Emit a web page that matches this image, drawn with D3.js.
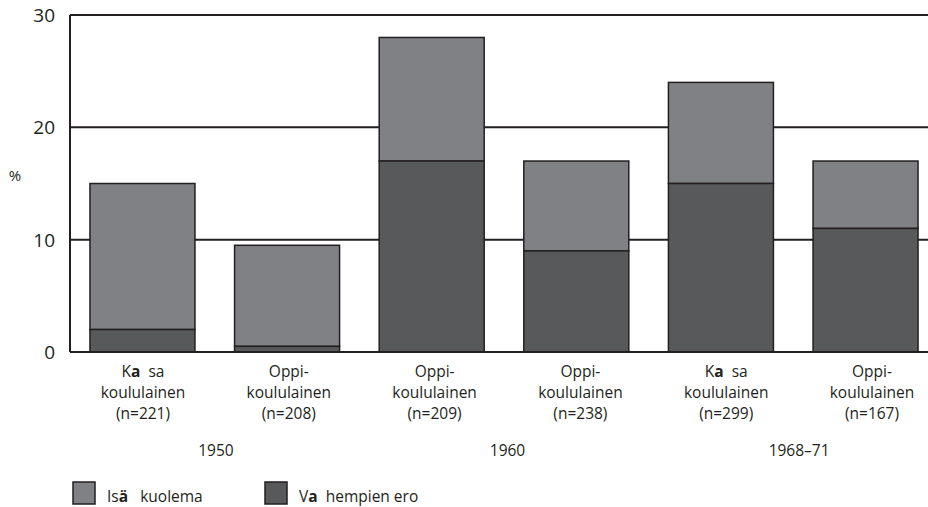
<!DOCTYPE html>
<html>
<head>
<meta charset="utf-8">
<script src="https://cdn.jsdelivr.net/npm/d3@7"></script>
<style>
  body { margin: 0; background: #fff; }
  text { font-family: "Open Sans", "Noto Sans", sans-serif; fill: #231f20; }
</style>
</head>
<body>
<div id="chart"></div>
<script>
// data
var groups = ["g1", "g2", "g3", "g4", "g5", "g6"];
var labelTop = [["K", "a", "  sa"], ["Oppi-"], ["Oppi-"], ["Oppi-"], ["K", "a", "  sa"], ["Oppi-"]];
var labelMid = ["koululainen", "koululainen", "koululainen", "koululainen", "koululainen", "koululainen"];
var labelN = ["(n=221)", "(n=208)", "(n=209)", "(n=238)", "(n=299)", "(n=167)"];
var parentsDivorce = [2, 0.5, 17, 9, 15, 11];   // Vanhempien ero (dark)
var fatherDeath = [13, 9, 11, 8, 9, 6];        // Isän kuolema (light)
var years = ["1950", "1960", "1968–71"];
var yearPairs = [["g1", "g2"], ["g3", "g4"], ["g5", "g6"]];
var yTicks = [0, 10, 20, 30];

var width = 928, height = 507;
var margin = { top: 15, right: 0, bottom: 155, left: 70 };

var svg = d3.select("#chart").append("svg")
  .attr("width", width).attr("height", height);

// bars run slightly past the right edge of the plot frame
var x = d3.scaleBand()
  .domain(groups)
  .range([margin.left, 938])
  .paddingInner(0.274)
  .paddingOuter(0.138);

// category labels are spaced a little wider than the bars
var xl = d3.scalePoint()
  .domain(groups)
  .range([143, 872]);

var y = d3.scaleLinear()
  .domain([0, 30])
  .range([352, margin.top]);

var lightColor = "#808184", darkColor = "#58595b", ink = "#231f20";

// gridlines
svg.append("g").selectAll("line")
  .data(yTicks.filter(function(d){ return d > 0; }))
  .enter().append("line")
  .attr("x1", margin.left).attr("x2", width)
  .attr("y1", function(d){ return y(d); })
  .attr("y2", function(d){ return y(d); })
  .style("stroke", ink).style("stroke-width", 2);

// y axis line
svg.append("line")
  .attr("x1", margin.left).attr("x2", margin.left)
  .attr("y1", y(30)).attr("y2", y(0))
  .style("stroke", ink).style("stroke-width", 2);

// tick labels
svg.append("g").selectAll("text")
  .data(yTicks).enter().append("text")
  .attr("x", 55)
  .attr("y", function(d){ return y(d) + 7; })
  .attr("text-anchor", "end")
  .style("font-size", "19px")
  .text(function(d){ return d; });

svg.append("text")
  .attr("x", 15).attr("y", 181)
  .attr("text-anchor", "middle")
  .style("font-size", "15px")
  .text("%");

// stacked bars
var bars = svg.append("g");
groups.forEach(function(g, i) {
  var bx = x(g), bw = x.bandwidth();
  var d0 = parentsDivorce[i], d1 = d0 + fatherDeath[i];
  bars.append("rect")
    .attr("x", bx).attr("width", bw)
    .attr("y", y(d1)).attr("height", y(d0) - y(d1))
    .style("fill", lightColor)
    .style("stroke", ink).style("stroke-width", 1.5);
  bars.append("rect")
    .attr("x", bx).attr("width", bw)
    .attr("y", y(d0)).attr("height", y(0) - y(d0))
    .style("fill", darkColor)
    .style("stroke", ink).style("stroke-width", 1.5);
});

// baseline on top
svg.append("line")
  .attr("x1", margin.left).attr("x2", width)
  .attr("y1", y(0)).attr("y2", y(0))
  .style("stroke", ink).style("stroke-width", 2);

// category labels
var cat = svg.append("g").style("font-size", "15.5px");
groups.forEach(function(g, i) {
  var cx = xl(g);
  var t1 = cat.append("text").attr("x", cx).attr("y", 377).attr("text-anchor", "middle")
    .attr("xml:space", "preserve");
  labelTop[i].forEach(function(part, j) {
    t1.append("tspan")
      .style("font-weight", labelTop[i].length > 1 && j === 1 ? "bold" : "normal")
      .text(part);
  });
  cat.append("text").attr("x", cx).attr("y", 398).attr("text-anchor", "middle").text(labelMid[i]);
  cat.append("text").attr("x", cx).attr("y", 419).attr("text-anchor", "middle").text(labelN[i]);
});

// year labels between each pair
years.forEach(function(yr, k) {
  var cx = (xl(yearPairs[k][0]) + xl(yearPairs[k][1])) / 2;
  svg.append("text").attr("x", cx).attr("y", 456)
    .attr("text-anchor", "middle").style("font-size", "15.5px").text(yr);
});

// legend
var legend = [
  { parts: ["Is", "ä", "   kuolema"], color: lightColor, x: 73 },
  { parts: ["V", "a", "  hempien ero"], color: darkColor, x: 265 }
];
legend.forEach(function(l) {
  svg.append("rect").attr("x", l.x).attr("y", 482).attr("width", 22).attr("height", 22)
    .style("fill", l.color).style("stroke", ink).style("stroke-width", 1.5);
  var t = svg.append("text").attr("x", l.x + 34).attr("y", 502)
    .attr("xml:space", "preserve").style("font-size", "15.5px");
  l.parts.forEach(function(p, j) {
    t.append("tspan").style("font-weight", j === 1 ? "bold" : "normal").text(p);
  });
});
</script>
</body>
</html>
